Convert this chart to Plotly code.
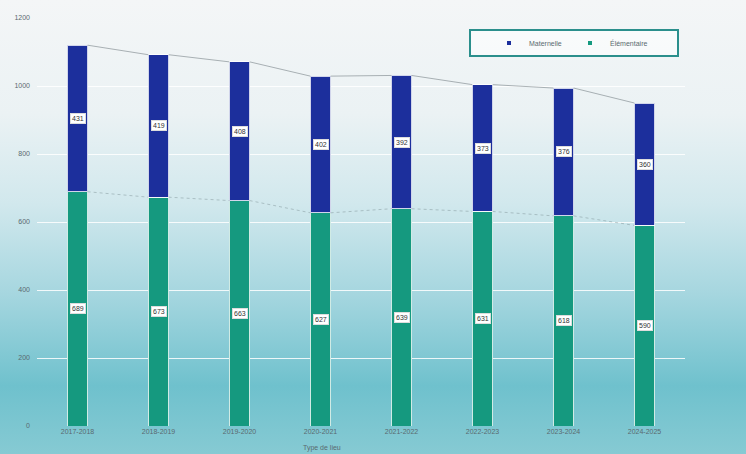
import base64
import plotly.graph_objects as go

years = ["2017-2018", "2018-2019", "2019-2020", "2020-2021",
         "2021-2022", "2022-2023", "2023-2024", "2024-2025"]
elementaire = [689, 673, 663, 627, 639, 631, 618, 590]
maternelle = [431, 419, 408, 402, 392, 373, 376, 360]
y_ticks = [0, 200, 400, 600, 800, 1000, 1200]

BLUE = "#1c2f9c"
GREEN = "#15997f"
TXT = "#5a6a70"

L, R, T, B = 37, 61, 18, 28
PW, PH = 746 - L - R, 454 - T - B

totals = [e + m for e, m in zip(elementaire, maternelle)]
xs = list(range(len(years)))
bar_w = 0.25

svg = """<svg xmlns='http://www.w3.org/2000/svg' width='746' height='454' viewBox='0 0 746 454' preserveAspectRatio='none'>
<defs><linearGradient id='g' x1='0' y1='0' x2='0' y2='1'>
<stop offset='0' stop-color='#f4f6f7'/>
<stop offset='0.25' stop-color='#ebf2f4'/>
<stop offset='0.45' stop-color='#d1e8ed'/>
<stop offset='0.65' stop-color='#a5d6df'/>
<stop offset='0.85' stop-color='#6fc1cd'/>
<stop offset='1' stop-color='#86cad3'/>
</linearGradient></defs>
<rect width='746' height='454' fill='url(#g)'/></svg>"""
src = "data:image/svg+xml;base64," + base64.b64encode(svg.encode()).decode()

fig = go.Figure()


def connectors(vals):
    lx, ly = [], []
    for i in range(len(vals) - 1):
        lx += [xs[i] + bar_w / 2, xs[i + 1] - bar_w / 2, None]
        ly += [vals[i], vals[i + 1], None]
    return lx, ly


cx, cy = connectors(totals)
fig.add_trace(go.Scatter(x=cx, y=cy, mode="lines", showlegend=False, hoverinfo="skip",
                         line=dict(color="rgba(120,130,135,0.6)", width=1)))
gx, gy = connectors(elementaire)
fig.add_trace(go.Scatter(x=gx, y=gy, mode="lines", showlegend=False, hoverinfo="skip",
                         line=dict(color="rgba(120,140,145,0.45)", width=1, dash="dot")))

fig.add_trace(go.Bar(x=xs, y=elementaire, name="Élémentaire", width=bar_w, showlegend=False,
                     marker=dict(color=GREEN, line=dict(color="rgba(255,255,255,0.8)", width=1))))
fig.add_trace(go.Bar(x=xs, y=maternelle, name="Maternelle", width=bar_w, showlegend=False,
                     marker=dict(color=BLUE, line=dict(color="rgba(255,255,255,0.8)", width=1))))

for name, col in (("Maternelle", BLUE), ("Élémentaire", GREEN)):
    fig.add_trace(go.Scatter(x=[None], y=[None], mode="markers", name=name,
                             marker=dict(symbol="square", size=4, color=col)))

annots = []
for i in xs:
    for yv, val in ((elementaire[i] / 2, elementaire[i]),
                    (elementaire[i] + maternelle[i] / 2, maternelle[i])):
        annots.append(dict(x=i, y=yv, text=str(val), showarrow=False,
                           font=dict(size=7, color="#333"), bgcolor="white",
                           bordercolor="#dddddd", borderwidth=1, borderpad=1))

annots.append(dict(x=(322 - L) / PW, y=-0.04, xref="paper", yref="paper", text="Type de lieu",
                   showarrow=False, yanchor="top", font=dict(size=7, color=TXT)))

fig.update_layout(
    width=746, height=454,
    margin=dict(l=L, r=R, t=T, b=B, autoexpand=False),
    barmode="stack",
    paper_bgcolor="#bfe0e7",
    plot_bgcolor="rgba(0,0,0,0)",
    font=dict(family="Liberation Sans", size=7, color=TXT),
    images=[dict(source=src, xref="paper", yref="paper",
                 x=-L / PW, y=(PH + T) / PH, sizex=746 / PW, sizey=454 / PH,
                 xanchor="left", yanchor="top", sizing="stretch", layer="below")],
    xaxis=dict(tickmode="array", tickvals=xs, ticktext=years, range=[-0.5, 7.5],
               showgrid=False, zeroline=False, ticks="", tickfont=dict(size=7, color=TXT)),
    yaxis=dict(range=[0, 1200], tickvals=y_ticks, ticktext=[str(v) for v in y_ticks],
               gridcolor="rgba(255,255,255,0.85)", gridwidth=1, zeroline=False,
               tickfont=dict(size=7, color=TXT), ticklabelstandoff=6),
    legend=dict(orientation="h", x=(489 - L) / PW, y=(PH + T - 43) / PH,
                xanchor="left", yanchor="middle", traceorder="normal",
                bgcolor="rgba(0,0,0,0)",
                font=dict(size=7, color=TXT), entrywidth=36, itemwidth=30),
    shapes=[dict(type="rect", xref="paper", yref="paper",
                 x0=(470 - L) / PW, x1=(678 - L) / PW,
                 y0=(PH + T - 56) / PH, y1=(PH + T - 30) / PH,
                 line=dict(color="#2b8f8c", width=2), fillcolor="rgba(255,255,255,0.55)",
                 layer="below")],
    annotations=annots,
)

fig.write_html("out.html")
